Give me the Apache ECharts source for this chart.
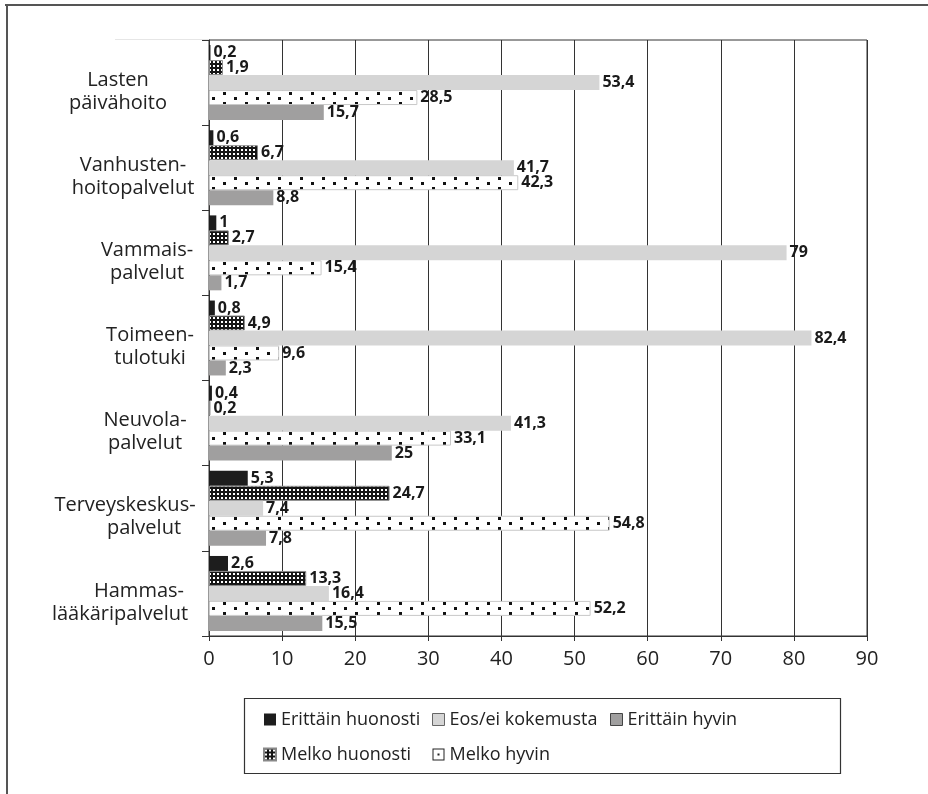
<!DOCTYPE html>
<html><head><meta charset="utf-8">
<script src="https://cdn.jsdelivr.net/npm/echarts@6/dist/echarts.min.js"></script>
<style>html,body{margin:0;padding:0;background:#fff}#c{width:928px;height:794px}</style>
</head><body><div id="c"></div>
<script>
const categories = ['Lasten\npäivähoito', 'Vanhusten-\nhoitopalvelut', 'Vammais-\npalvelut', 'Toimeen-\ntulotuki', 'Neuvola-\npalvelut', 'Terveyskeskus-\npalvelut', 'Hammas-\nlääkäripalvelut'];
const seriesNames = ['Erittäin huonosti', 'Melko huonosti', 'Eos/ei kokemusta', 'Melko hyvin', 'Erittäin hyvin'];
const erittainHuonosti = [0.2, 0.6, 1, 0.8, 0.4, 5.3, 2.6];
const melkoHuonosti = [1.9, 6.7, 2.7, 4.9, 0.2, 24.7, 13.3];
const eosEiKokemusta = [53.4, 41.7, 79, 82.4, 41.3, 7.4, 16.4];
const melkoHyvin = [28.5, 42.3, 15.4, 9.6, 33.1, 54.8, 52.2];
const erittainHyvin = [15.7, 8.8, 1.7, 2.3, 25, 7.8, 15.5];
const xMin = 0, xMax = 90, xStep = 10;

const FONT = '"Open Sans", "Noto Sans", sans-serif';

function makeChecker() {
  const c = document.createElement('canvas');
  c.width = 4; c.height = 4;
  const g = c.getContext('2d');
  g.fillStyle = '#151515'; g.fillRect(0, 0, 4, 4);
  g.fillStyle = '#ffffff'; g.fillRect(1, 1, 2, 2);
  return c;
}
function makeDots() {
  const c = document.createElement('canvas');
  c.width = 22; c.height = 10;
  const g = c.getContext('2d');
  g.fillStyle = '#ffffff'; g.fillRect(0, 0, 22, 10);
  g.fillStyle = '#111111';
  g.fillRect(3, 2, 3, 3);
  g.fillRect(14, 7, 3, 3);
  return c;
}

const styles = [
  { color: '#1d1d1d' },
  { color: { image: makeChecker(), repeat: 'repeat' }, borderColor: '#888', borderWidth: 1 },
  { color: '#d5d5d5' },
  { color: { image: makeDots(), repeat: 'repeat' }, borderColor: '#c8c8c8', borderWidth: 1 },
  { color: '#a09f9f' }
];
const values = [erittainHuonosti, melkoHuonosti, eosEiKokemusta, melkoHyvin, erittainHyvin];

const series = seriesNames.map((n, i) => ({
  name: n,
  type: 'bar',
  data: values[i],
  barGap: '0%',
  barCategoryGap: '12%',
  itemStyle: styles[i],
  label: {
    show: true,
    position: 'right',
    distance: 3,
    formatter: p => String(p.value).replace('.', ','),
    fontFamily: FONT,
    fontWeight: 'bold',
    fontSize: 16,
    color: '#1a1a1a'
  },
  emphasis: { disabled: true }
}));

// per-line horizontal shift of category labels: [padRight, padLeft] for line 1 and line 2
const lineShift = [
  [[44, 0], [44, 0]],
  [[14, 0], [14, 0]],
  [[0, 14], [0, 14]],
  [[0, 20], [0, 20]],
  [[0, 10], [0, 10]],
  [[30, 0], [0, 8]],
  [[2, 0], [40, 0]]
];
const rich = {};
lineShift.forEach((ls, i) => {
  ls.forEach((s, j) => {
    rich['s' + i + '_' + j] = { fontFamily: FONT, fontSize: 20, color: '#222', lineHeight: 23, padding: [0, s[0], 0, s[1]] };
  });
});

const legendCommon = {
  orient: 'vertical',
  padding: 0,
  itemWidth: 12,
  itemHeight: 12,
  itemGap: 14,
  icon: 'rect',
  selectedMode: false,
  textStyle: { fontFamily: FONT, fontSize: 18, color: '#222', lineHeight: 21 }
};

const chart = echarts.init(document.getElementById('c'));
chart.setOption({
  animation: false,
  backgroundColor: '#fff',
  grid: { left: 209, right: 61, top: 40, bottom: 158, show: true, borderColor: '#333', borderWidth: 1 },
  xAxis: {
    type: 'value', min: xMin, max: xMax, interval: xStep,
    axisLine: { show: true, lineStyle: { color: '#333', width: 1 } },
    axisTick: { show: true, length: 5, lineStyle: { color: '#333' } },
    splitLine: { show: true, lineStyle: { color: '#333', width: 1 } },
    axisLabel: { fontFamily: FONT, fontSize: 20, color: '#222', margin: 13 }
  },
  yAxis: {
    type: 'category', inverse: true, data: categories,
    axisLine: { show: true, lineStyle: { color: '#333', width: 1 } },
    axisTick: { show: true, length: 7, lineStyle: { color: '#333' } },
    axisLabel: {
      fontFamily: FONT, fontSize: 20, color: '#222', lineHeight: 23,
      align: 'center', margin: 69, padding: [18, 0, 0, 0],
      formatter: (v, idx) => v.split('\n').map((l, j) => '{s' + idx + '_' + j + '|' + l + '}').join('\n'),
      rich: rich
    }
  },
  legend: [
    Object.assign({}, legendCommon, { left: 263, top: 709, data: [
      { name: 'Erittäin huonosti' },
      { name: 'Melko huonosti' }
    ] }),
    Object.assign({}, legendCommon, { left: 432, top: 709, data: [
      { name: 'Eos/ei kokemusta', itemStyle: { borderColor: '#666', borderWidth: 1 } },
      { name: 'Melko hyvin', icon: 'path://M0,0H12V12H0Z M1,1V11H11V1Z M5,5H7V7H5Z', itemStyle: { color: '#222', borderWidth: 0 } }
    ] }),
    Object.assign({}, legendCommon, { left: 610, top: 709, data: [
      { name: 'Erittäin hyvin', itemStyle: { borderColor: '#444', borderWidth: 1 } }
    ] })
  ],
  graphic: [
    { type: 'line', shape: { x1: 5, y1: 5, x2: 928, y2: 5 }, style: { stroke: '#555', lineWidth: 2 }, silent: true },
    { type: 'line', shape: { x1: 7, y1: 5, x2: 7, y2: 794 }, style: { stroke: '#555', lineWidth: 2 }, silent: true },
    { type: 'line', shape: { x1: 115, y1: 39.5, x2: 209, y2: 39.5 }, style: { stroke: '#e6e6e6', lineWidth: 1 }, silent: true },
    { type: 'rect', shape: { x: 244.5, y: 698.5, width: 596, height: 75 }, style: { fill: 'none', stroke: '#333', lineWidth: 1.2 }, silent: true }
  ],
  series: series
});
</script></body></html>
